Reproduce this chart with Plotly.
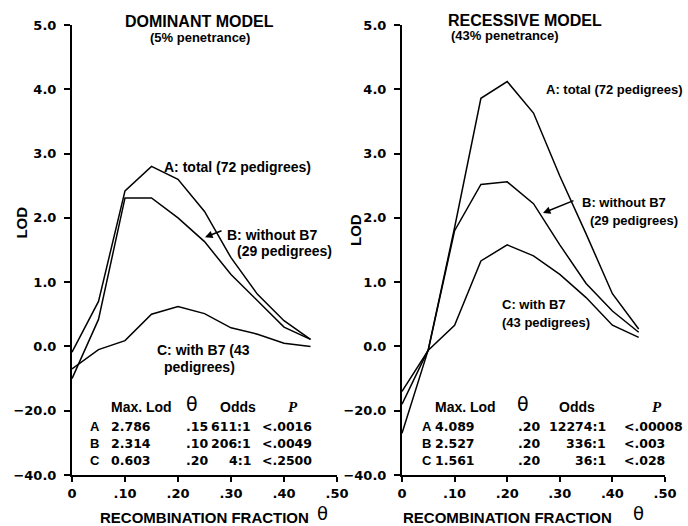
import plotly.graph_objects as go

# ---------------- data ----------------
theta = [0.00, 0.05, 0.10, 0.15, 0.20, 0.25, 0.30, 0.35, 0.40, 0.45]

dom_A = [-1.8, 0.70, 2.42, 2.80, 2.60, 2.10, 1.38, 0.81, 0.40, 0.11]
dom_B = [-10.0, 0.42, 2.31, 2.31, 2.00, 1.63, 1.12, 0.71, 0.30, 0.11]
dom_C = [-7.0, -1.0, 0.09, 0.50, 0.62, 0.51, 0.29, 0.19, 0.05, 0.00]

rec_A = [-27.0, -1.0, 1.85, 3.86, 4.12, 3.63, 2.65, 1.75, 0.82, 0.27]
rec_B = [-18.0, -1.0, 1.80, 2.52, 2.56, 2.22, 1.58, 0.98, 0.55, 0.22]
rec_C = [-14.0, -1.2, 0.33, 1.33, 1.58, 1.41, 1.12, 0.76, 0.33, 0.14]

y_tickvals = [5, 4, 3, 2, 1, 0, -1, -2]
y_ticktext = ["5.0", "4.0", "3.0", "2.0", "1.0", "0.0", "\u221220.0", "\u221240.0"]
x_tickvals = [0, 0.1, 0.2, 0.3, 0.4, 0.5]
x_ticktext = ["0", ".10", ".20", ".30", ".40", ".50"]

tab_rows = ["A", "B", "C"]
dom_maxlod = ["2.786", "2.314", "0.603"]
dom_theta = [".15", ".10", ".20"]
dom_odds = ["611:1", "206:1", "4:1"]
dom_p = ["<.0016", "<.0049", "<.2500"]
rec_maxlod = ["4.089", "2.527", "1.561"]
rec_theta = [".20", ".20", ".20"]
rec_odds = ["12274:1", "336:1", "36:1"]
rec_p = ["<.00008", "<.003", "<.028"]


def disp(v):
    # broken axis: positive LOD linear, negative part compressed (1 unit = 20 LOD)
    return v if v >= 0 else v / 20.0


fig = go.Figure()
for ys in (dom_A, dom_B, dom_C):
    fig.add_trace(go.Scatter(x=theta, y=[disp(v) for v in ys], mode="lines",
                             line=dict(color="black", width=1.5),
                             xaxis="x", yaxis="y", showlegend=False, hoverinfo="skip"))
for ys in (rec_A, rec_B, rec_C):
    fig.add_trace(go.Scatter(x=theta, y=[disp(v) for v in ys], mode="lines",
                             line=dict(color="black", width=1.5),
                             xaxis="x2", yaxis="y2", showlegend=False, hoverinfo="skip"))

TXT = "Liberation Sans"
NUM = "DejaVu Sans"
tickfont = dict(family=NUM, size=13, color="black", weight="bold")

xax = dict(range=[0, 0.5], showline=True, linewidth=2, linecolor="black",
           ticks="outside", ticklen=5, tickwidth=1.5, tickcolor="black",
           tickvals=x_tickvals, ticktext=x_ticktext, tickfont=tickfont,
           automargin=False,
           showgrid=False, zeroline=False, fixedrange=True)
yax = dict(range=[-2, 5], showline=True, linewidth=2, linecolor="black",
           ticks="outside", ticklen=6, tickwidth=1.5, tickcolor="black",
           tickvals=y_tickvals, ticktext=y_ticktext, tickfont=tickfont,
           ticklabelstandoff=5, automargin=False,
           showgrid=False, zeroline=False, fixedrange=True)

fig.update_layout(
    width=688, height=526,
    margin=dict(l=72, r=23, t=25, b=51),
    paper_bgcolor="white", plot_bgcolor="white",
    font=dict(family=TXT, color="black"),
    xaxis=dict(xax, domain=[0, 0.4469], anchor="y"),
    yaxis=dict(yax, anchor="x"),
    xaxis2=dict(xax, domain=[0.5565, 1.0], anchor="y2"),
    yaxis2=dict(yax, anchor="x2"),
)

anns = []


def txt(text, x, y, xref="paper", yref="paper", xanchor="center", size=14,
        family=TXT, bold=True, italic=False, angle=0):
    anns.append(dict(text=text, x=x, y=y, xref=xref, yref=yref, xanchor=xanchor,
                     yanchor="middle", showarrow=False, textangle=angle,
                     font=dict(family=family, size=size, color="black",
                               weight="bold" if bold else "normal",
                               style="italic" if italic else "normal")))


def theta_glyph(x, y, size):
    anns.append(dict(text="\u03b8", x=x, y=y, xref="paper", yref="paper",
                     xanchor="center", yanchor="middle", showarrow=False,
                     font=dict(family="DejaVu Sans", size=size, color="black")))


# titles
txt("DOMINANT MODEL", 0.2158, 1.0067, size=16)
txt("(5% penetrance)", 0.2158, 0.9733, size=13)
txt("RECESSIVE MODEL", 0.7639, 1.0089, size=16)
txt("(43% penetrance)", 0.7302, 0.9756, size=13)

# axis titles
txt("LOD", -0.085, 0.56, size=15, angle=-90)
txt("LOD", 0.4772, 0.5444, size=15, angle=-90)
txt("RECOMBINATION FRACTION", 0.2226, -0.094, size=15)
theta_glyph(0.4232, -0.086, 18)
txt("RECOMBINATION FRACTION", 0.7352, -0.094, size=15)
theta_glyph(0.9545, -0.086, 18)

# curve labels, left panel
txt("A: total (72 pedigrees)", 0.170, 2.79, "x", "y", "left")
txt("B: without B7", 0.289, 1.74, "x", "y", "left")
txt("(29 pedigrees)", 0.308, 1.48, "x", "y", "left")
txt("C: with B7 (43", 0.248, -0.06, "x", "y", "center")
txt("pedigrees)", 0.240, -0.32, "x", "y", "center")
# curve labels, right panel
txt("A: total (72 pedigrees)", 0.270, 4.00, "x2", "y2", "left", size=13)
txt("B: without B7", 0.338, 2.24, "x2", "y2", "left", size=13)
txt("(29 pedigrees)", 0.354, 1.96, "x2", "y2", "left", size=13)
txt("C: with B7", 0.186, 0.65, "x2", "y2", "left", size=13)
txt("(43 pedigrees)", 0.186, 0.38, "x2", "y2", "left", size=13)

# arrows for B
anns.append(dict(x=0.251, y=1.70, xref="x", yref="y", ax=18, ay=-7, text="",
                 showarrow=True, arrowhead=2, arrowsize=1, arrowwidth=1.5, arrowcolor="black"))
anns.append(dict(x=0.268, y=2.075, xref="x2", yref="y2", ax=32, ay=-13, text="",
                 showarrow=True, arrowhead=2, arrowsize=1, arrowwidth=1.5, arrowcolor="black"))

# tables
row_y = [0.1067, 0.0711, 0.0333]
head_y = 0.1511


def table(cols, maxlod, th, odds, p):
    lx, vx, thx, thc, ox_head, ox, pc, px = cols
    txt("Max. Lod", vx, head_y, xanchor="left", size=14)
    theta_glyph(thc, head_y + 0.006, 19)
    txt("Odds", ox_head, head_y, xanchor="left", size=14)
    txt("P", pc, head_y, xanchor="center", size=15, family="Liberation Serif", italic=True)
    for i in range(3):
        txt(tab_rows[i], lx, row_y[i], xanchor="left", size=13)
        txt(maxlod[i], vx, row_y[i], xanchor="left", size=12.5, family=NUM)
        txt(th[i], thx, row_y[i], xanchor="left", size=12.5, family=NUM)
        txt(odds[i], ox, row_y[i], xanchor="right", size=12.5, family=NUM)
        txt(p[i], px, row_y[i], xanchor="left", size=12.5, family=NUM)


table((0.0270, 0.0624, 0.1889, 0.2024, 0.2462, 0.3052, 0.3727, 0.3170),
      dom_maxlod, dom_theta, dom_odds, dom_p)
table((0.5868, 0.6088, 0.7487, 0.7605, 0.8179, 0.9039, 0.9865, 0.9275),
      rec_maxlod, rec_theta, rec_odds, rec_p)

fig.update_layout(annotations=anns)
fig.write_html("out.html")
